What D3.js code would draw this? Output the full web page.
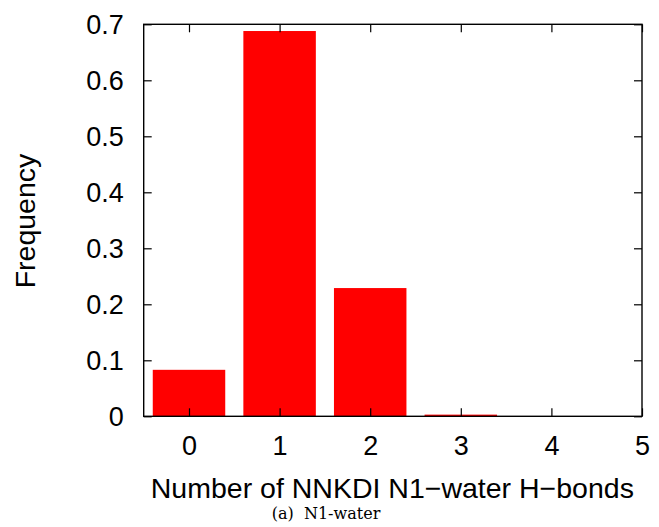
<!DOCTYPE html>
<html>
<head>
<meta charset="utf-8">
<script src="https://cdn.jsdelivr.net/npm/d3@7"></script>
<style>
  html, body { margin: 0; padding: 0; background: #fff; }
  svg { display: block; }
  text { font-family: "Liberation Sans", Arial, Helvetica, sans-serif; fill: #000; }
</style>
</head>
<body>
<svg id="chart" width="659" height="527"></svg>
<script>
// H-bond count histogram
const hbondCounts = [0, 1, 2, 3, 4];
const frequencies = [0.083, 0.688, 0.229, 0.003, 0.0003];
const xTickValues = [0, 1, 2, 3, 4, 5];
const yTickValues = [0, 0.1, 0.2, 0.3, 0.4, 0.5, 0.6, 0.7];

const svg = d3.select("#chart");
const plotLeft = 143.7, plotRight = 642, plotTop = 24.3, plotBottom = 416.3;
const tickLen = 8;

const x = d3.scaleLinear().domain([-0.5, 5]).range([plotLeft, plotRight]);
const y = d3.scaleLinear().domain([0, 0.7]).range([plotBottom, plotTop]);
const barWidth = 0.8;

// bars
svg.append("g").selectAll("rect")
  .data(hbondCounts.map((c, i) => ({ c, v: frequencies[i] })))
  .join("rect")
  .attr("x", d => x(d.c - barWidth / 2))
  .attr("width", d => x(d.c + barWidth / 2) - x(d.c - barWidth / 2))
  .attr("y", d => y(d.v))
  .attr("height", d => y(0) - y(d.v))
  .attr("fill", "#ff0000");

const fmtY = v => v === 0 ? "0" : d3.format(".1f")(v);

// bottom axis with labels
const gB = svg.append("g").attr("transform", `translate(0,${plotBottom})`)
  .call(d3.axisBottom(x).tickValues(xTickValues).tickSize(-tickLen).tickPadding(20).tickFormat(d3.format("d")));
// top mirror ticks
const gT = svg.append("g").attr("transform", `translate(0,${plotTop})`)
  .call(d3.axisTop(x).tickValues(xTickValues).tickSize(-tickLen).tickFormat(""));
// left axis with labels
const gL = svg.append("g").attr("transform", `translate(${plotLeft},0)`)
  .call(d3.axisLeft(y).tickValues(yTickValues).tickSize(-tickLen).tickPadding(20).tickFormat(fmtY));
// right mirror ticks
const gR = svg.append("g").attr("transform", `translate(${plotRight},0)`)
  .call(d3.axisRight(y).tickValues(yTickValues).tickSize(-tickLen).tickFormat(""));

[gB, gT, gL, gR].forEach(g => {
  g.select(".domain").remove();
  g.selectAll(".tick line").attr("stroke", "#000").attr("stroke-width", 1.2);
  g.selectAll(".tick text").style("font-size", "27px")
    .style("font-family", '"Liberation Sans", Arial, sans-serif').attr("fill", "#000");
});
gB.selectAll(".tick text").attr("dy", "0.71em").attr("y", 20);
gL.selectAll(".tick text").attr("dy", "0.35em");

// frame
svg.append("rect")
  .attr("x", plotLeft).attr("y", plotTop)
  .attr("width", plotRight - plotLeft).attr("height", plotBottom - plotTop)
  .attr("fill", "none").attr("stroke", "#000").attr("stroke-width", 1.4);

// axis titles
svg.append("text")
  .attr("x", (plotLeft + plotRight) / 2 - 0.5).attr("y", 498)
  .attr("text-anchor", "middle").style("font-size", "28.5px")
  .text("Number of NNKDI N1\u2212water H\u2212bonds");

svg.append("text")
  .attr("transform", "translate(35,221) rotate(-90)")
  .attr("text-anchor", "middle").style("font-size", "28.5px")
  .text("Frequency");

// caption
svg.append("text")
  .attr("x", 326).attr("y", 519)
  .attr("text-anchor", "middle")
  .style("font-family", '"DejaVu Serif", "Liberation Serif", serif')
  .style("font-size", "16px")
  .attr("xml:space", "preserve")
  .text("(a)  N1-water");
</script>
</body>
</html>
